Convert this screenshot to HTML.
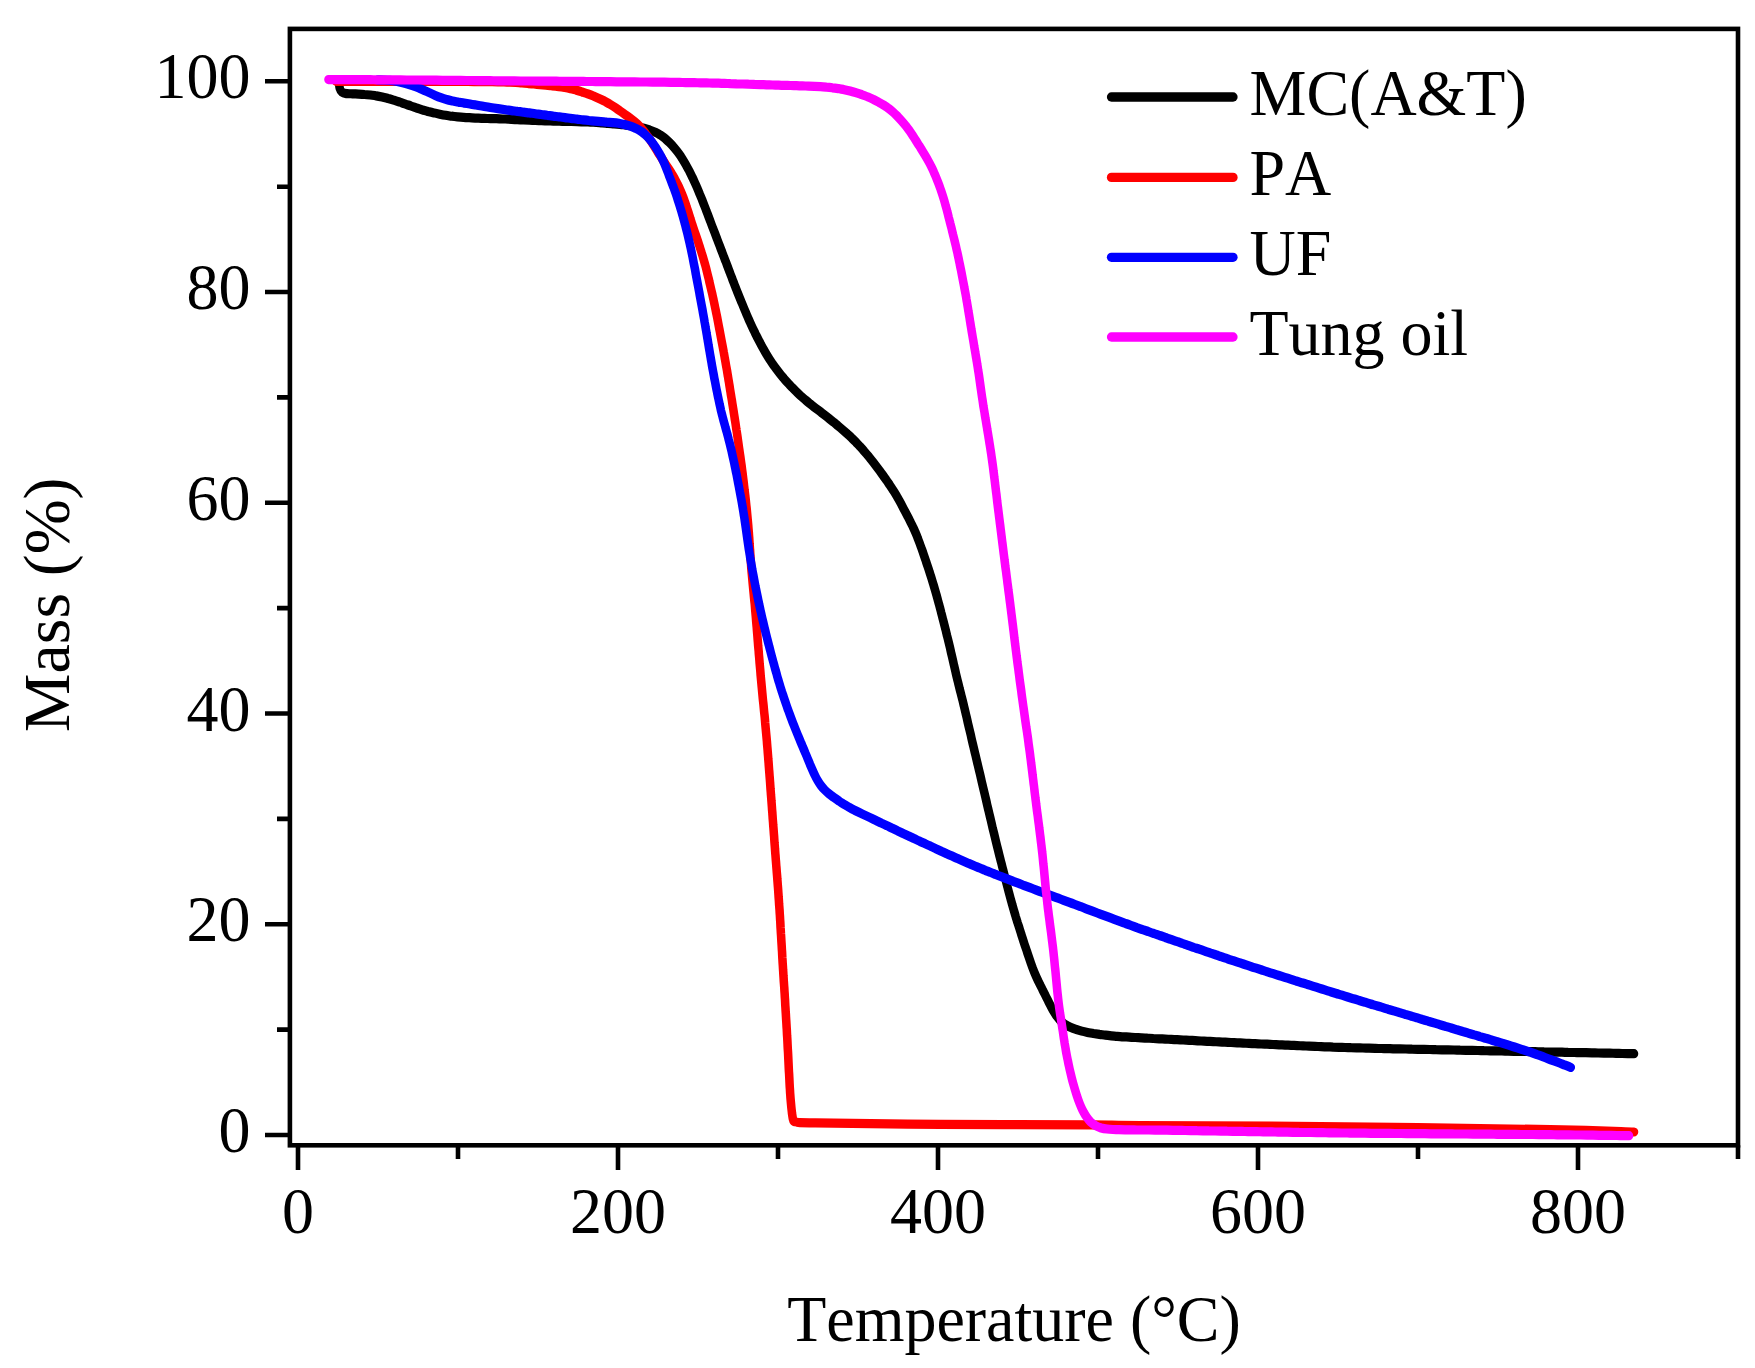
<!DOCTYPE html>
<html lang="en">
<head>
<meta charset="utf-8">
<title>TGA curves</title>
<style>
html,body{margin:0;padding:0;background:#fff;}
body{width:1755px;height:1368px;overflow:hidden;}
svg{display:block;}
svg text{font-family:"Liberation Serif","Times New Roman",serif;font-size:64px;fill:#000;font-kerning:none;}
</style>
</head>
<body>
<svg width="1755" height="1368" viewBox="0 0 1755 1368">
<rect width="1755" height="1368" fill="#fff"/>
<rect x="289.9" y="28.9" width="1448.1" height="1116.4" fill="none" stroke="#000" stroke-width="4.6"/>
<path d="M265.0 1135.0H289.9M277.0 1029.6H289.9M265.0 924.3H289.9M277.0 818.9H289.9M265.0 713.5H289.9M277.0 608.1H289.9M265.0 502.8H289.9M277.0 397.4H289.9M265.0 292.0H289.9M277.0 186.7H289.9M265.0 81.3H289.9M298.0 1145.3V1170.0M458.0 1145.3V1159.0M618.0 1145.3V1170.0M778.0 1145.3V1159.0M938.0 1145.3V1170.0M1098.0 1145.3V1159.0M1258.0 1145.3V1170.0M1418.0 1145.3V1159.0M1578.0 1145.3V1170.0M1738.0 1145.3V1159.0" fill="none" stroke="#000" stroke-width="4.6"/>
<g transform="scale(0.93 1)" fill="none" stroke-width="9.2" stroke-linecap="round" stroke-linejoin="round">
<path d="M364.7 84.0C364.8 84.8 364.9 87.2 365.4 88.5C365.8 89.8 366.3 91.2 367.5 92.0C368.7 92.8 370.7 93.3 372.6 93.6C374.5 93.9 376.9 93.7 379.0 93.8C381.2 93.9 383.3 94.0 385.5 94.1C387.6 94.2 389.8 94.3 391.9 94.5C394.1 94.6 396.2 94.8 398.3 95.0C400.5 95.3 402.6 95.5 404.7 95.9C406.8 96.2 408.9 96.6 411.0 97.0C413.1 97.5 415.2 97.9 417.3 98.5C419.4 99.0 421.4 99.6 423.5 100.2C425.5 100.8 427.6 101.4 429.6 102.0C431.7 102.7 433.7 103.3 435.7 104.0C437.7 104.7 439.8 105.3 441.8 106.0C443.8 106.7 445.8 107.3 447.9 108.0C449.9 108.6 452.0 109.2 454.0 109.8C456.1 110.4 458.1 110.9 460.2 111.5C462.3 112.0 464.4 112.5 466.5 112.9C468.6 113.4 470.7 113.8 472.8 114.2C474.9 114.6 477.0 115.0 479.1 115.3C481.2 115.7 483.3 115.9 485.5 116.2C487.6 116.4 489.8 116.6 491.9 116.8C494.0 117.0 496.2 117.2 498.3 117.3C500.5 117.5 502.6 117.6 504.8 117.7C506.9 117.9 509.1 118.0 511.2 118.1C513.4 118.2 515.5 118.2 517.7 118.3C519.8 118.4 521.9 118.4 524.1 118.5C526.2 118.5 528.4 118.6 530.5 118.6C532.7 118.7 534.9 118.7 537.0 118.8C539.1 118.9 541.3 119.0 543.4 119.0C545.6 119.1 547.7 119.2 549.9 119.3C552.0 119.4 554.2 119.5 556.3 119.7C558.5 119.8 560.6 119.9 562.8 120.0C564.9 120.0 567.1 120.1 569.2 120.2C571.4 120.3 573.5 120.4 575.7 120.5C577.8 120.6 580.0 120.7 582.1 120.7C584.3 120.8 586.4 120.9 588.6 120.9C590.7 121.0 592.9 121.0 595.0 121.1C597.2 121.1 599.3 121.2 601.5 121.2C603.6 121.3 605.8 121.3 607.9 121.4C610.1 121.4 612.2 121.5 614.4 121.5C616.5 121.6 618.5 121.6 620.8 121.6C623.1 121.7 626.0 121.8 628.3 121.8C630.7 121.9 632.6 122.0 634.8 122.1C636.9 122.2 639.1 122.3 641.2 122.4C643.4 122.5 645.5 122.7 647.7 122.8C649.8 123.0 652.0 123.1 654.1 123.3C656.2 123.5 658.4 123.6 660.5 123.8C662.7 124.0 664.8 124.2 666.9 124.4C669.1 124.6 671.2 124.9 673.3 125.1C675.5 125.4 677.6 125.7 679.7 126.0C681.9 126.3 684.0 126.6 686.1 127.0C688.2 127.4 690.3 127.8 692.4 128.3C694.5 128.8 696.5 129.4 698.5 130.0C700.6 130.7 702.6 131.4 704.5 132.2C706.4 133.1 708.3 134.0 710.1 135.1C711.9 136.1 713.6 137.4 715.3 138.6C716.9 139.9 718.5 141.3 720.0 142.7C721.5 144.1 723.0 145.6 724.4 147.1C725.8 148.6 727.1 150.1 728.4 151.7C729.7 153.3 731.0 155.0 732.2 156.6C733.4 158.3 734.5 160.0 735.6 161.7C736.7 163.4 737.8 165.1 738.8 166.9C739.9 168.6 740.8 170.4 741.8 172.2C742.8 174.0 743.7 175.8 744.6 177.6C745.6 179.4 746.4 181.2 747.3 183.0C748.2 184.9 749.1 186.7 749.9 188.5C750.8 190.4 751.6 192.2 752.4 194.1C753.2 195.9 754.1 197.8 754.9 199.6C755.7 201.5 756.4 203.3 757.2 205.2C758.0 207.1 758.8 208.9 759.5 210.8C760.3 212.7 761.0 214.5 761.8 216.4C762.6 218.3 763.3 220.2 764.1 222.0C764.8 223.9 765.6 225.8 766.4 227.7C767.1 229.5 767.9 231.4 768.7 233.2C769.4 235.1 770.2 237.0 771.0 238.9C771.7 240.7 772.5 242.6 773.3 244.5C774.1 246.3 774.8 248.2 775.6 250.1C776.4 251.9 777.1 253.8 777.9 255.7C778.7 257.5 779.4 259.4 780.2 261.3C781.0 263.1 781.7 265.0 782.5 266.9C783.3 268.8 784.0 270.6 784.8 272.5C785.5 274.4 786.3 276.2 787.1 278.1C787.8 280.0 788.6 281.8 789.4 283.7C790.2 285.6 790.9 287.4 791.7 289.3C792.5 291.2 793.3 293.0 794.1 294.9C794.9 296.7 795.7 298.6 796.5 300.4C797.3 302.3 798.2 304.1 799.0 306.0C799.8 307.8 800.6 309.7 801.5 311.5C802.3 313.4 803.1 315.2 804.0 317.0C804.9 318.9 805.7 320.7 806.6 322.5C807.5 324.4 808.4 326.2 809.3 328.0C810.2 329.8 811.2 331.6 812.1 333.4C813.1 335.2 814.0 337.0 815.0 338.7C816.0 340.5 817.0 342.3 818.0 344.1C819.0 345.8 820.0 347.6 821.1 349.3C822.1 351.1 823.2 352.8 824.3 354.5C825.4 356.2 826.5 357.9 827.7 359.6C828.9 361.3 830.1 362.9 831.3 364.6C832.6 366.2 833.8 367.8 835.1 369.4C836.4 371.0 837.7 372.6 839.1 374.2C840.4 375.7 841.8 377.2 843.2 378.8C844.6 380.3 846.1 381.8 847.5 383.2C849.0 384.7 850.4 386.2 851.9 387.6C853.4 389.1 854.9 390.5 856.5 391.9C858.0 393.3 859.5 394.7 861.1 396.0C862.7 397.3 864.4 398.7 866.0 399.9C867.6 401.2 869.3 402.5 871.0 403.8C872.7 405.0 874.3 406.3 876.0 407.5C877.7 408.7 879.5 409.9 881.2 411.1C882.9 412.3 884.6 413.6 886.3 414.8C888.0 416.0 889.7 417.2 891.4 418.5C893.0 419.7 894.7 421.0 896.4 422.2C898.1 423.5 899.7 424.8 901.4 426.1C903.0 427.3 904.6 428.6 906.3 430.0C907.9 431.3 909.5 432.6 911.1 433.9C912.7 435.3 914.3 436.6 915.8 438.0C917.4 439.4 918.9 440.8 920.4 442.2C921.9 443.7 923.4 445.1 924.8 446.6C926.3 448.1 927.6 449.4 929.1 451.1C930.6 452.7 932.5 454.8 934.0 456.4C935.4 458.1 936.7 459.5 938.0 461.1C939.3 462.7 940.6 464.3 941.9 465.9C943.2 467.5 944.5 469.1 945.8 470.7C947.1 472.3 948.3 473.9 949.6 475.5C950.8 477.2 952.1 478.8 953.3 480.4C954.5 482.1 955.8 483.7 957.0 485.4C958.2 487.0 959.4 488.7 960.5 490.4C961.7 492.1 962.8 493.8 963.9 495.5C965.0 497.2 966.0 499.0 967.1 500.7C968.1 502.5 969.1 504.2 970.1 506.0C971.1 507.8 972.1 509.5 973.1 511.3C974.1 513.1 975.1 514.9 976.1 516.6C977.1 518.4 978.1 520.2 979.0 522.0C980.0 523.8 980.9 525.6 981.9 527.4C982.8 529.2 983.7 531.0 984.5 532.8C985.4 534.7 986.2 536.5 986.9 538.4C987.7 540.3 988.5 542.1 989.2 544.0C989.9 545.9 990.7 547.8 991.4 549.7C992.1 551.5 992.8 553.4 993.5 555.3C994.2 557.2 994.9 559.1 995.6 561.0C996.2 562.9 996.9 564.8 997.6 566.7C998.3 568.6 999.0 570.5 999.6 572.4C1000.3 574.3 1000.9 576.2 1001.6 578.1C1002.2 580.0 1002.8 581.9 1003.5 583.9C1004.1 585.8 1004.7 587.7 1005.3 589.6C1005.9 591.5 1006.5 593.4 1007.1 595.4C1007.7 597.3 1008.2 599.2 1008.8 601.2C1009.4 603.1 1009.9 605.0 1010.5 607.0C1011.0 608.9 1011.6 610.8 1012.1 612.8C1012.7 614.7 1013.2 616.6 1013.7 618.6C1014.3 620.5 1014.8 622.4 1015.3 624.4C1015.8 626.3 1016.4 628.3 1016.9 630.2C1017.4 632.1 1017.9 634.1 1018.4 636.0C1019.0 638.0 1019.5 639.9 1020.0 641.9C1020.5 643.8 1021.0 645.7 1021.5 647.7C1022.0 649.6 1022.4 651.6 1022.9 653.5C1023.4 655.5 1023.9 657.4 1024.4 659.4C1024.9 661.3 1025.3 663.3 1025.8 665.2C1026.3 667.2 1026.8 669.1 1027.3 671.1C1027.7 673.0 1028.2 675.0 1028.7 676.9C1029.2 678.9 1029.7 680.8 1030.3 682.8C1030.8 684.7 1031.3 686.6 1031.8 688.6C1032.4 690.5 1032.9 692.5 1033.4 694.4C1033.9 696.3 1034.5 698.3 1035.0 700.2C1035.5 702.2 1036.0 704.1 1036.5 706.0C1037.0 708.0 1037.5 709.9 1038.0 711.9C1038.5 713.8 1039.0 715.8 1039.5 717.7C1040.0 719.7 1040.4 721.6 1040.9 723.6C1041.4 725.5 1041.9 727.5 1042.4 729.4C1042.9 731.4 1043.4 733.3 1043.9 735.2C1044.3 737.2 1044.8 739.2 1045.3 741.1C1045.8 743.0 1046.3 745.0 1046.8 746.9C1047.3 748.9 1047.8 750.8 1048.3 752.8C1048.8 754.7 1049.3 756.7 1049.8 758.6C1050.3 760.6 1050.8 762.5 1051.3 764.5C1051.8 766.4 1052.3 768.3 1052.8 770.3C1053.3 772.2 1053.8 774.2 1054.3 776.1C1054.8 778.1 1055.2 780.0 1055.7 782.0C1056.2 783.9 1056.7 785.9 1057.2 787.8C1057.7 789.8 1058.2 791.7 1058.7 793.6C1059.2 795.6 1059.7 797.5 1060.2 799.5C1060.7 801.4 1061.1 803.4 1061.6 805.3C1062.1 807.3 1062.6 809.2 1063.1 811.2C1063.6 813.1 1064.1 815.1 1064.6 817.0C1065.1 819.0 1065.6 820.9 1066.1 822.9C1066.6 824.8 1067.0 826.8 1067.5 828.7C1068.1 830.6 1068.6 832.6 1069.1 834.5C1069.6 836.5 1070.1 838.4 1070.6 840.4C1071.1 842.3 1071.6 844.2 1072.1 846.2C1072.7 848.1 1073.2 850.1 1073.7 852.0C1074.2 854.0 1074.7 855.9 1075.3 857.8C1075.8 859.8 1076.3 861.7 1076.9 863.6C1077.4 865.6 1077.9 867.5 1078.5 869.5C1079.0 871.4 1079.5 873.3 1080.1 875.3C1080.6 877.2 1081.1 879.1 1081.7 881.1C1082.2 883.0 1082.8 885.0 1083.3 886.9C1083.8 888.8 1084.4 890.8 1084.9 892.7C1085.5 894.6 1086.0 896.4 1086.6 898.5C1087.2 900.6 1088.0 903.1 1088.6 905.2C1089.3 907.3 1089.8 909.1 1090.4 911.0C1091.0 912.9 1091.6 914.8 1092.2 916.8C1092.9 918.7 1093.5 920.6 1094.1 922.5C1094.8 924.4 1095.4 926.3 1096.1 928.2C1096.7 930.1 1097.4 932.0 1098.0 933.9C1098.7 935.8 1099.3 937.7 1100.0 939.6C1100.7 941.5 1101.3 943.5 1102.0 945.4C1102.7 947.2 1103.4 949.1 1104.1 951.0C1104.7 952.9 1105.4 954.8 1106.1 956.7C1106.8 958.6 1107.5 960.5 1108.2 962.4C1108.9 964.3 1109.7 966.2 1110.4 968.0C1111.2 969.9 1111.9 971.8 1112.8 973.6C1113.6 975.5 1114.5 977.3 1115.4 979.1C1116.3 980.9 1117.3 982.7 1118.2 984.5C1119.2 986.3 1120.1 988.1 1121.1 989.9C1122.0 991.7 1123.0 993.4 1124.0 995.2C1124.9 997.0 1125.9 998.8 1126.9 1000.6C1127.8 1002.4 1128.8 1004.2 1129.8 1005.9C1130.8 1007.7 1131.8 1009.5 1132.9 1011.2C1134.0 1012.9 1135.1 1014.6 1136.3 1016.2C1137.6 1017.8 1138.9 1019.4 1140.4 1020.8C1141.9 1022.2 1143.6 1023.4 1145.3 1024.5C1147.1 1025.6 1149.0 1026.5 1151.0 1027.3C1152.9 1028.1 1154.9 1028.8 1157.0 1029.4C1159.0 1030.1 1161.1 1030.6 1163.2 1031.1C1165.2 1031.6 1167.3 1032.0 1169.4 1032.4C1171.5 1032.8 1173.7 1033.1 1175.8 1033.5C1177.9 1033.8 1180.0 1034.1 1182.2 1034.4C1184.3 1034.6 1186.4 1034.9 1188.6 1035.1C1190.7 1035.4 1192.8 1035.6 1195.0 1035.8C1197.1 1036.0 1199.3 1036.1 1201.4 1036.3C1203.6 1036.5 1205.7 1036.6 1207.8 1036.8C1210.0 1036.9 1212.1 1037.0 1214.3 1037.1C1216.4 1037.3 1218.6 1037.4 1220.7 1037.5C1222.9 1037.6 1225.0 1037.7 1227.2 1037.8C1229.3 1037.9 1231.5 1038.0 1233.6 1038.2C1235.8 1038.3 1237.9 1038.3 1240.1 1038.5C1242.2 1038.6 1244.3 1038.7 1246.5 1038.8C1248.6 1038.9 1250.8 1039.0 1252.9 1039.1C1255.1 1039.2 1257.2 1039.3 1259.4 1039.4C1261.5 1039.5 1263.7 1039.6 1265.8 1039.7C1268.0 1039.8 1270.1 1039.9 1272.3 1040.0C1274.4 1040.1 1276.6 1040.2 1278.7 1040.3C1280.9 1040.4 1283.0 1040.5 1285.2 1040.6C1287.3 1040.8 1289.4 1040.9 1291.6 1041.0C1293.7 1041.1 1295.9 1041.2 1298.0 1041.3C1300.2 1041.4 1302.3 1041.5 1304.5 1041.6C1306.6 1041.7 1308.8 1041.8 1310.9 1041.9C1313.1 1042.0 1315.2 1042.1 1317.4 1042.2C1319.5 1042.4 1321.7 1042.5 1323.8 1042.5C1326.0 1042.6 1328.1 1042.7 1330.3 1042.8C1332.4 1042.9 1334.6 1043.0 1336.7 1043.1C1338.8 1043.2 1341.0 1043.3 1343.1 1043.4C1345.3 1043.5 1347.4 1043.6 1349.6 1043.7C1351.7 1043.8 1353.9 1043.9 1356.0 1044.0C1358.2 1044.1 1360.3 1044.2 1362.5 1044.2C1364.6 1044.3 1366.8 1044.4 1368.9 1044.5C1371.1 1044.6 1373.2 1044.7 1375.4 1044.8C1377.5 1044.9 1379.7 1045.0 1381.8 1045.1C1384.0 1045.2 1386.1 1045.2 1388.3 1045.3C1390.4 1045.4 1392.6 1045.5 1394.7 1045.6C1396.9 1045.7 1399.0 1045.8 1401.2 1045.9C1403.3 1046.0 1405.5 1046.0 1407.6 1046.1C1409.8 1046.2 1411.9 1046.3 1414.0 1046.4C1416.2 1046.5 1418.3 1046.5 1420.5 1046.6C1422.6 1046.7 1424.8 1046.8 1426.9 1046.8C1429.1 1046.9 1431.2 1047.0 1433.4 1047.1C1435.5 1047.1 1437.7 1047.2 1439.8 1047.3C1442.0 1047.4 1444.1 1047.4 1446.3 1047.5C1448.4 1047.6 1450.6 1047.6 1452.7 1047.7C1454.9 1047.7 1457.0 1047.8 1459.2 1047.9C1461.3 1047.9 1463.5 1048.0 1465.6 1048.0C1467.8 1048.1 1469.9 1048.1 1472.1 1048.2C1474.2 1048.3 1476.4 1048.3 1478.5 1048.3C1480.7 1048.4 1482.8 1048.5 1485.0 1048.5C1487.1 1048.5 1489.3 1048.6 1491.4 1048.6C1493.6 1048.7 1495.6 1048.7 1497.9 1048.8C1500.2 1048.8 1503.1 1048.9 1505.4 1048.9C1507.7 1049.0 1509.7 1049.0 1511.9 1049.0C1514.0 1049.1 1516.2 1049.1 1518.3 1049.2C1520.5 1049.2 1522.6 1049.2 1524.8 1049.3C1526.9 1049.3 1529.1 1049.4 1531.2 1049.4C1533.4 1049.5 1535.5 1049.5 1537.7 1049.5C1539.8 1049.6 1542.0 1049.6 1544.1 1049.7C1546.3 1049.7 1548.4 1049.7 1550.6 1049.8C1552.7 1049.8 1554.9 1049.9 1557.0 1049.9C1559.2 1050.0 1561.3 1050.0 1563.5 1050.0C1565.6 1050.1 1567.8 1050.1 1569.9 1050.2C1572.1 1050.2 1574.2 1050.2 1576.4 1050.3C1578.5 1050.3 1580.7 1050.4 1582.8 1050.4C1585.0 1050.5 1587.1 1050.5 1589.3 1050.5C1591.4 1050.6 1593.6 1050.6 1595.7 1050.7C1597.9 1050.7 1600.0 1050.8 1602.2 1050.8C1604.3 1050.8 1606.5 1050.9 1608.6 1050.9C1610.8 1051.0 1612.9 1051.0 1615.1 1051.0C1617.2 1051.1 1619.4 1051.1 1621.5 1051.2C1623.7 1051.2 1625.8 1051.2 1628.0 1051.3C1630.1 1051.3 1632.3 1051.4 1634.4 1051.4C1636.6 1051.4 1638.7 1051.5 1640.9 1051.5C1643.0 1051.5 1645.2 1051.6 1647.3 1051.6C1649.5 1051.7 1651.6 1051.7 1653.8 1051.8C1655.9 1051.8 1658.1 1051.8 1660.2 1051.9C1662.4 1051.9 1664.5 1051.9 1666.7 1052.0C1668.8 1052.0 1671.0 1052.1 1673.1 1052.1C1675.3 1052.2 1677.4 1052.2 1679.6 1052.2C1681.7 1052.3 1683.9 1052.3 1686.0 1052.4C1688.2 1052.4 1690.3 1052.4 1692.5 1052.5C1694.6 1052.5 1696.8 1052.6 1698.9 1052.6C1701.1 1052.6 1703.2 1052.7 1705.4 1052.7C1707.5 1052.8 1709.7 1052.8 1711.8 1052.8C1714.0 1052.9 1716.1 1052.9 1718.3 1053.0C1720.4 1053.0 1722.6 1053.0 1724.7 1053.1C1726.9 1053.1 1729.0 1053.2 1731.2 1053.2C1733.3 1053.2 1735.5 1053.3 1737.6 1053.3C1739.8 1053.4 1741.9 1053.4 1744.1 1053.5C1746.2 1053.5 1748.4 1053.5 1750.5 1053.6C1752.7 1053.6 1755.9 1053.7 1757.0 1053.7" stroke="#000000"/>
<path d="M361.3 81.3C362.4 81.3 365.6 81.3 367.7 81.3C369.9 81.3 372.0 81.3 374.2 81.3C376.3 81.3 378.5 81.3 380.6 81.3C382.8 81.3 384.9 81.3 387.1 81.3C389.2 81.3 391.4 81.3 393.6 81.3C395.7 81.4 397.9 81.3 400.0 81.3C402.2 81.4 404.3 81.4 406.5 81.4C408.6 81.4 410.8 81.4 412.9 81.4C415.1 81.4 417.2 81.4 419.4 81.4C421.5 81.4 423.7 81.4 425.8 81.4C428.0 81.4 430.1 81.4 432.3 81.4C434.4 81.4 436.6 81.4 438.7 81.4C440.9 81.4 443.0 81.4 445.2 81.4C447.3 81.4 449.5 81.4 451.6 81.4C453.8 81.4 455.9 81.4 458.1 81.4C460.2 81.4 462.4 81.5 464.5 81.5C466.7 81.5 468.8 81.5 471.0 81.5C473.1 81.5 475.3 81.5 477.4 81.5C479.6 81.5 481.7 81.5 483.9 81.5C486.0 81.5 488.2 81.5 490.3 81.5C492.5 81.5 494.6 81.5 496.8 81.5C498.9 81.5 501.1 81.5 503.3 81.5C505.4 81.6 507.6 81.6 509.7 81.6C511.9 81.6 514.0 81.6 516.2 81.6C518.3 81.6 520.5 81.6 522.6 81.6C524.8 81.7 526.9 81.7 529.1 81.7C531.2 81.7 533.4 81.7 535.5 81.8C537.7 81.8 539.8 81.9 542.0 81.9C544.1 82.0 546.3 82.1 548.4 82.2C550.6 82.3 552.7 82.4 554.8 82.5C557.0 82.7 559.1 82.8 561.3 83.0C563.4 83.1 565.6 83.3 567.7 83.5C569.9 83.7 572.0 83.9 574.1 84.0C576.3 84.2 578.4 84.4 580.6 84.6C582.7 84.8 584.8 85.0 587.0 85.2C589.1 85.4 591.1 85.5 593.4 85.8C595.7 86.0 598.6 86.3 600.9 86.6C603.2 86.8 605.1 87.1 607.3 87.5C609.4 87.8 611.5 88.2 613.6 88.7C615.7 89.1 617.7 89.7 619.8 90.2C621.9 90.7 623.9 91.3 626.0 92.0C628.0 92.6 630.1 93.2 632.1 93.9C634.1 94.6 636.1 95.3 638.1 96.0C640.1 96.8 642.1 97.6 644.0 98.4C646.0 99.2 647.9 100.1 649.8 101.0C651.7 102.0 653.6 102.9 655.4 104.0C657.3 105.0 659.1 106.0 660.9 107.1C662.7 108.2 664.4 109.4 666.2 110.6C668.0 111.7 669.7 112.9 671.4 114.1C673.2 115.2 675.0 116.4 676.7 117.5C678.4 118.7 680.2 119.9 681.8 121.1C683.5 122.4 685.1 123.7 686.6 125.1C688.2 126.5 689.5 128.0 690.9 129.6C692.3 131.1 693.6 132.7 694.8 134.3C696.1 135.9 697.4 137.5 698.6 139.2C699.8 140.9 700.9 142.5 702.1 144.2C703.2 145.9 704.4 147.6 705.5 149.3C706.6 151.0 707.8 152.7 708.9 154.4C710.1 156.1 711.2 157.8 712.4 159.5C713.5 161.1 714.7 162.8 715.9 164.5C717.1 166.1 718.3 167.8 719.5 169.5C720.7 171.2 721.8 172.8 722.9 174.6C724.0 176.3 725.1 178.0 726.1 179.8C727.1 181.5 728.1 183.3 729.0 185.1C730.0 186.9 730.9 188.7 731.8 190.6C732.6 192.4 733.4 194.2 734.2 196.1C735.0 198.0 735.7 199.9 736.4 201.7C737.1 203.6 737.8 205.5 738.4 207.4C739.1 209.3 739.8 211.2 740.5 213.1C741.1 215.0 741.8 216.9 742.4 218.8C743.1 220.8 743.7 222.7 744.4 224.6C745.1 226.5 745.7 228.4 746.4 230.3C747.1 232.2 747.8 234.0 748.5 235.9C749.2 237.8 749.9 239.7 750.6 241.6C751.2 243.5 751.9 245.4 752.6 247.3C753.2 249.2 753.9 251.1 754.5 253.0C755.2 255.0 755.8 256.9 756.4 258.8C757.0 260.7 757.6 262.6 758.2 264.6C758.7 266.5 759.3 268.4 759.8 270.4C760.3 272.3 760.8 274.2 761.3 276.2C761.9 278.1 762.4 280.1 762.8 282.0C763.3 284.0 763.8 285.9 764.3 287.9C764.8 289.8 765.3 291.8 765.8 293.7C766.2 295.7 766.7 297.6 767.2 299.6C767.6 301.5 768.1 303.5 768.5 305.4C768.9 307.4 769.4 309.4 769.8 311.3C770.2 313.3 770.7 315.2 771.1 317.2C771.5 319.2 771.9 321.1 772.3 323.1C772.7 325.1 773.1 327.0 773.5 329.0C773.9 331.0 774.3 332.9 774.7 334.9C775.1 336.8 775.5 338.8 775.9 340.8C776.3 342.7 776.7 344.7 777.1 346.7C777.5 348.6 777.9 350.6 778.3 352.6C778.7 354.6 779.0 356.5 779.4 358.5C779.8 360.5 780.2 362.4 780.5 364.4C780.9 366.4 781.3 368.3 781.7 370.3C782.0 372.3 782.4 374.3 782.7 376.2C783.1 378.2 783.4 380.2 783.8 382.1C784.1 384.1 784.5 386.1 784.8 388.1C785.1 390.0 785.5 392.0 785.8 394.0C786.2 396.0 786.5 397.9 786.9 399.9C787.2 401.9 787.5 403.9 787.9 405.9C788.2 407.8 788.6 409.8 788.9 411.8C789.2 413.8 789.6 415.7 789.9 417.7C790.2 419.7 790.6 421.7 790.9 423.6C791.2 425.6 791.5 427.6 791.8 429.6C792.2 431.5 792.5 433.5 792.8 435.5C793.1 437.5 793.4 439.5 793.7 441.4C794.0 443.4 794.3 445.4 794.6 447.4C794.9 449.4 795.2 451.2 795.5 453.3C795.9 455.5 796.3 458.1 796.6 460.3C796.9 462.4 797.2 464.2 797.5 466.2C797.7 468.2 798.0 470.2 798.3 472.2C798.6 474.1 798.8 476.1 799.1 478.1C799.4 480.1 799.6 482.1 799.9 484.1C800.1 486.1 800.4 488.0 800.6 490.0C800.9 492.0 801.1 494.0 801.4 496.0C801.6 498.0 801.9 500.0 802.1 501.9C802.3 503.9 802.5 505.9 802.8 507.9C803.0 509.9 803.2 511.9 803.4 513.9C803.6 515.9 803.8 517.9 804.0 519.9C804.2 521.9 804.4 523.9 804.6 525.9C804.7 527.8 804.9 529.8 805.1 531.8C805.3 533.8 805.4 535.8 805.6 537.8C805.7 539.8 805.9 541.8 806.0 543.8C806.2 545.8 806.3 547.8 806.5 549.8C806.6 551.8 806.7 553.8 806.9 555.8C807.0 557.8 807.2 559.8 807.4 561.8C807.5 563.8 807.7 565.7 807.8 567.7C808.0 569.7 808.2 571.7 808.4 573.7C808.6 575.7 808.8 577.7 809.0 579.7C809.2 581.7 809.4 583.7 809.6 585.7C809.8 587.7 810.0 589.7 810.2 591.6C810.4 593.6 810.6 595.6 810.8 597.6C811.0 599.6 811.2 601.6 811.5 603.6C811.7 605.6 811.9 607.6 812.0 609.6C812.2 611.6 812.4 613.6 812.6 615.5C812.8 617.5 813.0 619.5 813.1 621.5C813.3 623.5 813.5 625.5 813.7 627.5C813.8 629.5 814.0 631.5 814.2 633.5C814.4 635.5 814.5 637.5 814.7 639.5C814.9 641.5 815.1 643.5 815.2 645.5C815.4 647.4 815.6 649.4 815.8 651.4C815.9 653.4 816.1 655.4 816.3 657.4C816.5 659.4 816.7 661.4 816.8 663.4C817.0 665.4 817.2 667.4 817.4 669.4C817.6 671.4 817.8 673.4 817.9 675.4C818.1 677.3 818.3 679.3 818.5 681.3C818.7 683.3 818.9 685.3 819.1 687.3C819.3 689.3 819.5 691.3 819.7 693.3C819.9 695.3 820.1 697.3 820.3 699.2C820.5 701.2 820.8 703.2 821.0 705.2C821.2 707.2 821.4 709.2 821.6 711.2C821.8 713.2 822.1 715.2 822.3 717.2C822.5 719.2 822.7 721.1 822.8 723.1C823.0 725.1 823.2 727.1 823.4 729.1C823.6 731.1 823.8 733.1 824.0 735.1C824.2 737.1 824.4 739.1 824.6 741.1C824.7 743.1 824.9 745.1 825.1 747.1C825.3 749.1 825.5 751.0 825.6 753.0C825.8 755.0 826.0 757.0 826.1 759.0C826.3 761.0 826.5 763.0 826.6 765.0C826.8 767.0 826.9 769.0 827.1 771.0C827.3 773.0 827.4 775.0 827.6 777.0C827.8 779.0 827.9 781.0 828.1 783.0C828.2 785.0 828.4 786.9 828.5 788.9C828.7 790.9 828.9 792.9 829.0 794.9C829.2 796.9 829.4 798.9 829.5 800.9C829.7 802.9 829.8 804.9 830.0 806.9C830.1 808.9 830.3 810.9 830.5 812.9C830.6 814.9 830.8 816.9 830.9 818.9C831.1 820.9 831.3 822.9 831.4 824.9C831.6 826.8 831.7 828.8 831.9 830.8C832.0 832.8 832.2 834.8 832.4 836.8C832.5 838.8 832.7 840.8 832.8 842.8C833.0 844.8 833.2 846.8 833.3 848.8C833.5 850.8 833.6 852.8 833.8 854.8C834.0 856.8 834.1 858.8 834.3 860.8C834.5 862.8 834.6 864.7 834.8 866.7C835.0 868.7 835.1 870.7 835.3 872.7C835.5 874.7 835.7 876.7 835.8 878.7C836.0 880.7 836.1 882.7 836.3 884.7C836.5 886.7 836.6 888.7 836.8 890.7C836.9 892.7 837.1 894.5 837.2 896.7C837.4 898.8 837.6 901.5 837.7 903.6C837.9 905.8 838.0 907.6 838.2 909.6C838.3 911.6 838.4 913.6 838.6 915.6C838.7 917.6 838.8 919.6 839.0 921.6C839.1 923.6 839.2 925.6 839.3 927.6C839.5 929.6 839.6 931.6 839.7 933.6C839.9 935.6 840.0 937.6 840.1 939.6C840.2 941.6 840.4 943.6 840.5 945.6C840.6 947.6 840.7 949.6 840.9 951.6C841.0 953.6 841.1 955.6 841.2 957.6C841.4 959.6 841.5 961.6 841.6 963.5C841.8 965.5 841.9 967.5 842.0 969.5C842.2 971.5 842.3 973.5 842.4 975.5C842.6 977.5 842.7 979.5 842.8 981.5C843.0 983.5 843.1 985.5 843.3 987.5C843.4 989.5 843.5 991.5 843.7 993.5C843.8 995.5 843.9 997.5 844.1 999.5C844.2 1001.5 844.3 1003.5 844.4 1005.5C844.6 1007.5 844.7 1009.5 844.8 1011.5C845.0 1013.5 845.1 1015.5 845.2 1017.5C845.3 1019.4 845.5 1021.5 845.6 1023.5C845.7 1025.4 845.8 1027.4 846.0 1029.4C846.1 1031.4 846.2 1033.4 846.3 1035.4C846.5 1037.4 846.6 1039.4 846.7 1041.4C846.8 1043.4 846.9 1045.4 847.0 1047.4C847.1 1049.4 847.3 1051.4 847.4 1053.4C847.5 1055.4 847.6 1057.4 847.7 1059.4C847.8 1061.4 847.9 1063.4 848.0 1065.4C848.1 1067.4 848.2 1069.4 848.3 1071.4C848.5 1073.4 848.6 1075.4 848.7 1077.4C848.8 1079.4 848.9 1081.4 849.0 1083.4C849.1 1085.4 849.2 1087.4 849.4 1089.4C849.5 1091.4 849.6 1093.4 849.8 1095.3C849.9 1097.3 850.1 1099.3 850.3 1101.3C850.5 1103.3 850.7 1105.3 850.9 1107.3C851.1 1109.3 851.4 1111.3 851.6 1113.3C851.9 1115.2 852.4 1118.2 852.6 1119.2C853.2 1119.7 852.1 1121.4 856.1 1122.0C860.1 1122.6 850.7 1122.5 876.6 1122.9C902.4 1123.3 961.9 1124.1 1011.3 1124.4C1060.7 1124.7 1137.3 1124.7 1173.0 1124.9C1208.8 1125.1 1180.3 1125.2 1225.8 1125.5C1271.3 1125.8 1372.7 1126.1 1446.2 1126.8C1519.8 1127.5 1615.2 1128.7 1667.0 1129.6C1718.8 1130.5 1742.0 1131.6 1757.0 1132.0" stroke="#ff0000"/>
<path d="M406.5 79.9C407.5 79.9 410.8 80.0 412.9 80.0C415.1 80.1 417.2 80.2 419.3 80.4C421.5 80.6 423.6 80.8 425.7 81.2C427.8 81.5 429.9 82.0 432.0 82.5C434.1 83.0 436.1 83.5 438.2 84.1C440.3 84.7 442.3 85.3 444.3 85.9C446.4 86.6 448.4 87.3 450.4 88.0C452.4 88.8 454.3 89.6 456.3 90.4C458.2 91.2 460.2 92.1 462.1 92.9C464.1 93.8 466.0 94.6 468.0 95.4C470.0 96.2 472.0 97.0 474.0 97.7C476.0 98.4 478.0 99.0 480.1 99.5C482.2 100.1 484.3 100.5 486.4 100.9C488.5 101.4 490.6 101.7 492.7 102.1C494.8 102.4 496.9 102.8 499.1 103.1C501.2 103.4 503.3 103.7 505.4 104.0C507.5 104.4 509.7 104.7 511.8 105.0C513.9 105.4 516.0 105.7 518.2 106.0C520.3 106.4 522.4 106.7 524.5 107.0C526.6 107.4 528.7 107.7 530.9 108.0C533.0 108.3 535.1 108.6 537.2 108.9C539.4 109.2 541.5 109.5 543.6 109.8C545.8 110.1 547.9 110.3 550.0 110.6C552.2 110.9 554.3 111.1 556.4 111.4C558.6 111.6 560.7 111.9 562.8 112.2C565.0 112.4 567.1 112.7 569.2 112.9C571.4 113.2 573.5 113.4 575.6 113.7C577.8 114.0 579.9 114.2 582.0 114.5C584.2 114.8 586.3 115.0 588.4 115.3C590.6 115.5 592.7 115.8 594.8 116.1C596.9 116.3 599.1 116.6 601.2 116.8C603.3 117.1 605.5 117.4 607.6 117.6C609.7 117.9 611.9 118.1 614.0 118.4C616.1 118.6 618.3 118.9 620.4 119.1C622.5 119.3 624.7 119.6 626.8 119.8C629.0 120.0 631.1 120.2 633.2 120.5C635.4 120.7 637.5 120.9 639.7 121.1C641.8 121.3 643.9 121.5 646.1 121.6C648.2 121.8 650.4 121.9 652.5 122.1C654.6 122.2 656.8 122.4 658.9 122.6C661.1 122.8 663.2 123.0 665.3 123.3C667.4 123.7 669.6 124.0 671.6 124.5C673.7 125.0 675.8 125.6 677.8 126.2C679.8 126.8 681.9 127.6 683.8 128.4C685.7 129.3 687.6 130.2 689.3 131.3C691.1 132.4 692.7 133.7 694.3 135.1C695.8 136.4 697.3 137.9 698.7 139.4C700.1 140.9 701.4 142.5 702.6 144.2C703.9 145.8 705.1 147.4 706.2 149.1C707.4 150.8 708.5 152.5 709.5 154.3C710.6 156.0 711.6 157.8 712.5 159.6C713.4 161.4 714.3 163.2 715.1 165.1C715.9 166.9 716.7 168.8 717.4 170.7C718.2 172.5 719.0 174.4 719.7 176.3C720.5 178.1 721.3 180.0 722.0 181.9C722.8 183.8 723.5 185.6 724.3 187.5C725.0 189.4 725.8 191.3 726.5 193.1C727.2 195.0 727.9 196.9 728.5 198.8C729.2 200.7 729.8 202.6 730.5 204.5C731.1 206.4 731.7 208.4 732.4 210.3C733.0 212.2 733.6 214.1 734.2 216.1C734.7 218.0 735.3 219.9 735.9 221.8C736.4 223.8 737.0 225.7 737.5 227.6C738.1 229.6 738.6 231.5 739.1 233.4C739.6 235.4 740.1 237.3 740.6 239.3C741.1 241.2 741.6 243.2 742.0 245.1C742.5 247.1 743.0 249.0 743.4 251.0C743.8 253.0 744.3 254.9 744.7 256.9C745.1 258.8 745.5 260.8 745.9 262.8C746.3 264.7 746.7 266.7 747.2 268.7C747.6 270.6 747.9 272.6 748.3 274.6C748.7 276.5 749.1 278.5 749.5 280.5C749.9 282.4 750.3 284.4 750.7 286.4C751.1 288.3 751.5 290.3 751.9 292.3C752.2 294.2 752.6 296.2 753.0 298.2C753.4 300.1 753.8 302.1 754.2 304.1C754.6 306.0 755.0 308.0 755.4 310.0C755.7 311.9 756.1 313.9 756.5 315.9C756.9 317.8 757.3 319.8 757.6 321.8C758.0 323.8 758.4 325.7 758.7 327.7C759.1 329.7 759.5 331.6 759.8 333.6C760.2 335.6 760.5 337.6 760.9 339.5C761.2 341.5 761.6 343.5 761.9 345.4C762.3 347.4 762.6 349.4 763.0 351.4C763.3 353.3 763.7 355.3 764.1 357.3C764.4 359.3 764.8 361.2 765.2 363.2C765.5 365.2 765.9 367.1 766.3 369.1C766.7 371.1 767.1 373.0 767.5 375.0C767.8 377.0 768.2 378.9 768.7 380.9C769.1 382.9 769.5 384.8 769.9 386.8C770.3 388.8 770.7 390.7 771.2 392.7C771.6 394.6 772.0 396.6 772.5 398.6C772.9 400.5 773.4 402.5 773.8 404.4C774.3 406.4 774.8 408.3 775.2 410.3C775.7 412.2 776.3 414.2 776.8 416.1C777.3 418.0 777.9 420.0 778.4 421.9C779.0 423.8 779.6 425.8 780.1 427.7C780.7 429.6 781.3 431.6 781.9 433.5C782.4 435.4 783.0 437.3 783.5 439.3C784.1 441.2 784.6 443.1 785.1 445.1C785.6 447.0 786.1 449.0 786.6 450.9C787.1 452.9 787.5 454.8 788.0 456.8C788.5 458.7 788.9 460.7 789.4 462.6C789.8 464.6 790.2 466.6 790.7 468.5C791.1 470.5 791.5 472.5 792.0 474.4C792.4 476.4 792.8 478.3 793.2 480.3C793.6 482.3 794.0 484.2 794.4 486.2C794.8 488.1 795.2 490.1 795.6 492.1C796.0 494.0 796.4 496.0 796.8 498.0C797.2 499.9 797.6 501.9 797.9 503.9C798.3 505.9 798.7 507.8 799.0 509.8C799.4 511.8 799.7 513.8 800.0 515.7C800.4 517.7 800.7 519.7 801.0 521.7C801.3 523.6 801.6 525.6 801.9 527.6C802.2 529.6 802.5 531.6 802.8 533.5C803.1 535.5 803.4 537.5 803.7 539.5C804.0 541.5 804.3 543.5 804.6 545.4C804.9 547.4 805.2 549.4 805.6 551.4C805.9 553.3 806.3 555.3 806.6 557.3C807.0 559.3 807.3 561.2 807.7 563.2C808.1 565.2 808.5 567.1 808.8 569.1C809.2 571.1 809.6 573.0 810.0 575.0C810.4 577.0 810.8 578.9 811.2 580.9C811.6 582.9 812.0 584.8 812.4 586.8C812.9 588.8 813.3 590.7 813.7 592.7C814.1 594.6 814.6 596.6 815.0 598.5C815.4 600.5 815.9 602.5 816.3 604.4C816.8 606.4 817.3 608.3 817.7 610.3C818.2 612.2 818.7 614.2 819.1 616.1C819.6 618.1 820.1 620.0 820.6 622.0C821.1 623.9 821.6 625.9 822.1 627.8C822.6 629.8 823.1 631.7 823.6 633.7C824.1 635.6 824.6 637.5 825.2 639.5C825.7 641.4 826.2 643.4 826.8 645.3C827.3 647.2 827.8 649.2 828.4 651.1C828.9 653.0 829.5 655.0 830.0 656.9C830.6 658.8 831.1 660.8 831.7 662.7C832.3 664.6 832.8 666.6 833.4 668.5C834.0 670.4 834.6 672.3 835.2 674.3C835.7 676.2 836.3 678.1 836.9 680.0C837.5 681.9 838.2 683.9 838.8 685.8C839.4 687.7 840.1 689.6 840.7 691.5C841.4 693.4 842.0 695.3 842.7 697.2C843.4 699.1 844.1 701.0 844.8 702.9C845.5 704.8 846.2 706.7 846.9 708.6C847.6 710.4 848.4 712.3 849.1 714.2C849.8 716.1 850.6 718.0 851.4 719.8C852.1 721.7 852.9 723.6 853.7 725.4C854.5 727.3 855.3 729.1 856.1 731.0C856.9 732.9 857.7 734.7 858.5 736.5C859.4 738.4 860.2 740.2 861.0 742.1C861.9 743.9 862.7 745.8 863.5 747.6C864.4 749.4 865.2 751.3 866.0 753.1C866.9 755.0 867.7 756.8 868.5 758.7C869.3 760.5 870.1 762.4 870.9 764.2C871.8 766.1 872.6 767.9 873.5 769.8C874.3 771.6 875.2 773.4 876.2 775.2C877.1 777.0 878.1 778.8 879.2 780.5C880.3 782.2 881.4 783.9 882.7 785.5C884.0 787.1 885.4 788.6 886.9 790.0C888.4 791.4 890.0 792.7 891.7 794.0C893.3 795.2 895.1 796.4 896.8 797.6C898.5 798.8 900.3 799.9 902.1 801.0C903.9 802.2 905.7 803.2 907.5 804.3C909.3 805.3 911.2 806.4 913.1 807.3C914.9 808.3 916.8 809.3 918.7 810.2C920.7 811.1 922.6 812.0 924.5 812.8C926.5 813.7 928.4 814.5 930.4 815.4C932.3 816.2 934.3 817.1 936.2 817.9C938.1 818.8 940.1 819.7 942.0 820.5C944.0 821.4 945.9 822.2 947.8 823.1C949.8 824.0 951.7 824.8 953.7 825.7C955.6 826.6 957.6 827.4 959.5 828.3C961.4 829.1 963.4 830.0 965.3 830.9C967.3 831.7 969.2 832.6 971.1 833.5C973.1 834.3 975.0 835.2 977.0 836.0C978.9 836.9 980.9 837.7 982.8 838.6C984.8 839.4 986.7 840.3 988.7 841.1C990.6 842.0 992.6 842.8 994.5 843.6C996.5 844.5 998.4 845.3 1000.4 846.1C1002.3 847.0 1004.3 847.8 1006.2 848.7C1008.2 849.5 1010.1 850.3 1012.1 851.2C1014.1 852.0 1016.0 852.8 1018.0 853.7C1019.9 854.5 1021.9 855.3 1023.8 856.1C1025.8 856.9 1027.8 857.8 1029.7 858.6C1031.7 859.4 1033.7 860.2 1035.6 861.0C1037.6 861.8 1039.6 862.6 1041.6 863.4C1043.5 864.1 1045.5 864.9 1047.5 865.7C1049.5 866.5 1051.5 867.2 1053.5 868.0C1055.5 868.8 1057.4 869.5 1059.4 870.3C1061.4 871.0 1063.4 871.8 1065.4 872.5C1067.4 873.2 1069.4 874.0 1071.4 874.7C1073.4 875.5 1075.4 876.2 1077.4 876.9C1079.4 877.6 1081.4 878.4 1083.5 879.1C1085.5 879.8 1087.5 880.5 1089.5 881.3C1091.5 882.0 1093.5 882.7 1095.5 883.4C1097.5 884.1 1099.5 884.9 1101.5 885.6C1103.5 886.3 1105.5 887.0 1107.5 887.7C1109.5 888.4 1111.6 889.1 1113.6 889.8C1115.6 890.5 1117.6 891.2 1119.6 892.0C1121.6 892.7 1123.6 893.4 1125.7 894.0C1127.7 894.7 1129.7 895.4 1131.7 896.1C1133.7 896.8 1135.7 897.5 1137.8 898.2C1139.8 898.9 1141.8 899.6 1143.8 900.3C1145.8 901.0 1147.8 901.7 1149.8 902.4C1151.9 903.1 1153.9 903.8 1155.9 904.5C1157.9 905.2 1159.9 905.9 1161.9 906.6C1163.9 907.4 1165.9 908.1 1168.0 908.8C1170.0 909.5 1172.0 910.2 1174.0 910.9C1176.0 911.6 1178.0 912.3 1180.0 913.0C1182.0 913.7 1184.1 914.4 1186.1 915.1C1188.1 915.8 1190.1 916.5 1192.1 917.2C1194.1 917.9 1196.1 918.6 1198.2 919.3C1200.2 920.0 1202.2 920.7 1204.2 921.4C1206.2 922.1 1208.2 922.8 1210.3 923.5C1212.3 924.1 1214.3 924.8 1216.3 925.5C1218.4 926.2 1220.4 926.9 1222.4 927.6C1224.4 928.2 1226.5 928.9 1228.5 929.6C1230.5 930.2 1232.5 930.9 1234.6 931.5C1236.6 932.2 1238.6 932.9 1240.7 933.5C1242.7 934.2 1244.7 934.8 1246.8 935.5C1248.8 936.1 1250.8 936.8 1252.9 937.5C1254.9 938.1 1256.9 938.8 1259.0 939.4C1261.0 940.1 1263.0 940.7 1265.1 941.4C1267.1 942.0 1269.1 942.7 1271.2 943.4C1273.2 944.0 1275.2 944.7 1277.2 945.3C1279.3 946.0 1281.3 946.6 1283.3 947.3C1285.4 947.9 1287.4 948.6 1289.5 949.2C1291.5 949.9 1293.5 950.5 1295.5 951.1C1297.6 951.8 1299.6 952.4 1301.7 953.1C1303.7 953.7 1305.7 954.4 1307.8 955.0C1309.8 955.6 1311.8 956.3 1313.9 956.9C1315.9 957.6 1318.0 958.2 1320.0 958.8C1322.0 959.5 1324.1 960.1 1326.1 960.7C1328.2 961.4 1330.2 962.0 1332.3 962.6C1334.3 963.2 1336.3 963.9 1338.4 964.5C1340.4 965.1 1342.5 965.7 1344.5 966.3C1346.6 967.0 1348.6 967.6 1350.7 968.2C1352.7 968.8 1354.7 969.4 1356.8 970.0C1358.8 970.6 1360.9 971.2 1362.9 971.9C1365.0 972.5 1367.0 973.1 1369.1 973.7C1371.1 974.3 1373.2 974.9 1375.2 975.5C1377.3 976.1 1379.3 976.7 1381.4 977.3C1383.4 977.9 1385.5 978.5 1387.5 979.1C1389.6 979.7 1391.6 980.3 1393.7 981.0C1395.7 981.6 1397.8 982.2 1399.8 982.8C1401.9 983.3 1403.9 983.9 1406.0 984.5C1408.1 985.1 1410.1 985.7 1412.2 986.3C1414.2 986.9 1416.3 987.5 1418.3 988.1C1420.4 988.7 1422.4 989.3 1424.5 989.9C1426.5 990.5 1428.6 991.1 1430.6 991.7C1432.7 992.3 1434.8 992.9 1436.8 993.5C1438.9 994.1 1440.9 994.6 1443.0 995.2C1445.0 995.8 1447.1 996.4 1449.1 997.0C1451.2 997.6 1453.3 998.2 1455.3 998.8C1457.4 999.3 1459.4 999.9 1461.5 1000.5C1463.5 1001.1 1465.6 1001.7 1467.7 1002.2C1469.7 1002.8 1471.8 1003.4 1473.8 1004.0C1475.9 1004.6 1477.9 1005.1 1480.0 1005.7C1482.1 1006.3 1484.1 1006.9 1486.2 1007.4C1488.3 1008.0 1490.3 1008.6 1492.4 1009.2C1494.4 1009.7 1496.5 1010.3 1498.5 1010.9C1500.6 1011.5 1502.7 1012.0 1504.7 1012.6C1506.8 1013.2 1508.9 1013.7 1510.9 1014.3C1513.0 1014.9 1515.0 1015.5 1517.1 1016.0C1519.2 1016.6 1521.2 1017.2 1523.3 1017.7C1525.4 1018.3 1527.4 1018.9 1529.5 1019.5C1531.5 1020.0 1533.6 1020.6 1535.7 1021.2C1537.7 1021.7 1539.8 1022.3 1541.8 1022.9C1543.9 1023.5 1546.0 1024.0 1548.0 1024.6C1550.1 1025.2 1552.1 1025.7 1554.2 1026.3C1556.3 1026.9 1558.3 1027.5 1560.4 1028.0C1562.4 1028.6 1564.5 1029.2 1566.6 1029.8C1568.6 1030.3 1570.7 1030.9 1572.8 1031.5C1574.8 1032.0 1576.9 1032.6 1578.9 1033.2C1581.0 1033.7 1583.1 1034.3 1585.1 1034.9C1587.2 1035.4 1589.2 1036.0 1591.3 1036.6C1593.4 1037.1 1595.4 1037.7 1597.5 1038.3C1599.6 1038.8 1601.6 1039.4 1603.7 1040.0C1605.7 1040.6 1607.8 1041.1 1609.9 1041.7C1611.9 1042.3 1614.0 1042.9 1616.0 1043.4C1618.1 1044.0 1620.2 1044.6 1622.2 1045.2C1624.3 1045.8 1626.3 1046.4 1628.4 1047.0C1630.4 1047.6 1632.5 1048.2 1634.5 1048.8C1636.6 1049.4 1638.6 1050.1 1640.6 1050.7C1642.7 1051.3 1644.7 1052.0 1646.8 1052.6C1648.8 1053.3 1650.8 1054.0 1652.8 1054.7C1654.9 1055.3 1656.9 1056.0 1658.9 1056.7C1660.9 1057.4 1662.9 1058.1 1664.9 1058.8C1667.0 1059.5 1669.0 1060.2 1671.0 1060.9C1673.0 1061.6 1675.0 1062.3 1677.0 1063.0C1679.0 1063.7 1681.0 1064.5 1683.0 1065.2C1685.0 1065.9 1688.0 1067.0 1689.0 1067.4" stroke="#0000ff"/>
<path d="M353.2 79.6C354.3 79.6 357.5 79.6 359.7 79.6C361.8 79.6 364.0 79.6 366.1 79.6C368.3 79.6 370.4 79.7 372.6 79.7C374.7 79.7 376.9 79.7 379.0 79.7C381.2 79.7 383.3 79.7 385.5 79.7C387.6 79.7 389.8 79.7 391.9 79.7C394.1 79.7 396.2 79.7 398.4 79.7C400.5 79.7 402.7 79.8 404.8 79.8C407.0 79.8 409.1 79.8 411.3 79.8C413.4 79.8 415.6 79.8 417.7 79.8C419.9 79.8 422.0 79.9 424.2 79.9C426.3 79.9 428.5 79.9 430.6 79.9C432.8 79.9 434.9 79.9 437.1 80.0C439.2 80.0 441.4 80.0 443.5 80.0C445.7 80.0 447.8 80.0 450.0 80.0C452.2 80.1 454.3 80.1 456.5 80.1C458.6 80.1 460.8 80.1 462.9 80.2C465.1 80.2 467.2 80.2 469.4 80.2C471.5 80.2 473.7 80.2 475.8 80.3C478.0 80.3 480.1 80.3 482.3 80.3C484.4 80.3 486.6 80.4 488.7 80.4C490.9 80.4 493.0 80.4 495.2 80.4C497.3 80.5 499.5 80.5 501.6 80.5C503.8 80.5 505.9 80.5 508.1 80.5C510.2 80.6 512.4 80.6 514.5 80.6C516.7 80.6 518.8 80.6 521.0 80.7C523.1 80.7 525.3 80.7 527.4 80.7C529.6 80.7 531.7 80.8 533.9 80.8C536.0 80.8 538.2 80.8 540.3 80.8C542.5 80.8 544.6 80.9 546.8 80.9C548.9 80.9 551.1 80.9 553.2 80.9C555.4 80.9 557.5 80.9 559.7 81.0C561.8 81.0 564.0 81.0 566.1 81.0C568.3 81.0 570.4 81.0 572.6 81.0C574.7 81.1 576.9 81.1 579.0 81.1C581.2 81.1 583.3 81.1 585.5 81.1C587.6 81.2 589.8 81.2 591.9 81.2C594.1 81.2 596.2 81.2 598.4 81.2C600.5 81.2 602.7 81.3 604.8 81.3C607.0 81.3 609.1 81.3 611.3 81.3C613.4 81.3 615.6 81.4 617.7 81.4C619.9 81.4 622.0 81.4 624.2 81.4C626.3 81.4 628.5 81.5 630.6 81.5C632.8 81.5 634.9 81.5 637.1 81.5C639.2 81.5 641.4 81.6 643.5 81.6C645.7 81.6 647.8 81.6 650.0 81.6C652.2 81.7 654.3 81.7 656.5 81.7C658.6 81.7 660.8 81.7 662.9 81.8C665.1 81.8 667.2 81.8 669.4 81.8C671.5 81.8 673.7 81.9 675.8 81.9C678.0 81.9 680.1 81.9 682.3 81.9C684.4 82.0 686.6 82.0 688.7 82.0C690.9 82.0 693.0 82.0 695.2 82.0C697.3 82.1 699.5 82.1 701.6 82.1C703.8 82.1 705.9 82.2 708.1 82.2C710.2 82.2 712.4 82.2 714.5 82.2C716.7 82.3 718.8 82.3 721.0 82.3C723.1 82.4 725.3 82.4 727.4 82.4C729.6 82.4 731.7 82.5 733.9 82.5C736.0 82.5 738.2 82.6 740.3 82.6C742.5 82.6 744.6 82.7 746.8 82.7C748.9 82.7 751.1 82.8 753.2 82.8C755.4 82.8 757.5 82.9 759.7 82.9C761.8 83.0 764.0 83.0 766.1 83.1C768.3 83.1 770.4 83.2 772.6 83.2C774.7 83.3 776.9 83.3 779.0 83.4C781.2 83.5 783.3 83.5 785.5 83.6C787.6 83.6 789.8 83.7 791.9 83.8C794.1 83.8 796.2 83.9 798.4 84.0C800.5 84.0 802.7 84.1 804.8 84.2C807.0 84.2 809.1 84.3 811.3 84.4C813.4 84.4 815.6 84.5 817.7 84.6C819.9 84.7 822.0 84.7 824.2 84.8C826.3 84.9 828.5 84.9 830.6 85.0C832.8 85.1 834.9 85.1 837.1 85.2C839.2 85.3 841.4 85.3 843.5 85.4C845.7 85.4 847.8 85.5 850.0 85.5C852.1 85.6 854.3 85.7 856.4 85.7C858.6 85.8 860.7 85.8 862.9 85.9C865.0 86.0 867.2 86.0 869.3 86.1C871.4 86.2 873.6 86.3 875.8 86.4C877.9 86.5 880.0 86.6 882.2 86.7C884.3 86.8 886.5 87.0 888.6 87.2C890.8 87.3 892.9 87.5 895.0 87.8C897.2 88.0 899.3 88.3 901.4 88.6C903.5 89.0 905.7 89.3 907.8 89.7C909.9 90.1 912.0 90.5 914.0 91.0C916.1 91.5 918.2 92.1 920.2 92.7C922.3 93.3 924.2 93.8 926.4 94.5C928.6 95.3 931.3 96.2 933.4 97.0C935.6 97.8 937.3 98.6 939.3 99.5C941.2 100.4 943.1 101.3 945.0 102.3C946.9 103.2 948.7 104.2 950.5 105.3C952.3 106.4 954.1 107.5 955.8 108.7C957.6 109.9 959.2 111.2 960.8 112.5C962.4 113.8 963.9 115.3 965.4 116.7C966.8 118.1 968.3 119.6 969.7 121.1C971.1 122.6 972.5 124.1 973.9 125.7C975.2 127.3 976.5 128.9 977.8 130.5C979.0 132.1 980.2 133.8 981.4 135.5C982.5 137.1 983.7 138.8 984.8 140.5C986.0 142.2 987.1 143.9 988.3 145.6C989.4 147.3 990.6 149.0 991.7 150.7C992.8 152.4 993.9 154.1 995.0 155.8C996.1 157.5 997.2 159.3 998.2 161.0C999.3 162.8 1000.3 164.5 1001.2 166.3C1002.2 168.1 1003.1 169.9 1004.0 171.8C1004.8 173.6 1005.7 175.4 1006.5 177.3C1007.3 179.1 1008.1 181.0 1008.9 182.8C1009.7 184.7 1010.4 186.6 1011.1 188.5C1011.8 190.4 1012.5 192.2 1013.2 194.2C1013.9 196.1 1014.5 198.0 1015.1 199.9C1015.7 201.8 1016.3 203.7 1016.8 205.7C1017.4 207.6 1018.0 209.5 1018.5 211.4C1019.1 213.4 1019.6 215.3 1020.1 217.3C1020.7 219.2 1021.2 221.1 1021.7 223.1C1022.3 225.0 1022.8 227.0 1023.3 228.9C1023.8 230.8 1024.3 232.8 1024.8 234.7C1025.4 236.7 1025.9 238.6 1026.4 240.6C1026.9 242.5 1027.4 244.4 1027.9 246.4C1028.3 248.3 1028.8 250.3 1029.3 252.2C1029.8 254.2 1030.2 256.1 1030.7 258.1C1031.1 260.1 1031.5 262.0 1032.0 264.0C1032.4 265.9 1032.8 267.9 1033.3 269.9C1033.7 271.8 1034.1 273.8 1034.5 275.7C1034.9 277.7 1035.3 279.7 1035.7 281.6C1036.1 283.6 1036.6 285.6 1036.9 287.5C1037.3 289.5 1037.7 291.5 1038.1 293.4C1038.5 295.4 1038.9 297.4 1039.2 299.3C1039.6 301.3 1039.9 303.3 1040.3 305.3C1040.7 307.2 1041.0 309.2 1041.3 311.2C1041.7 313.2 1042.0 315.1 1042.4 317.1C1042.7 319.1 1043.0 321.1 1043.4 323.0C1043.7 325.0 1044.1 327.0 1044.4 328.9C1044.8 330.9 1045.1 332.9 1045.5 334.9C1045.8 336.8 1046.2 338.8 1046.6 340.8C1046.9 342.8 1047.3 344.7 1047.6 346.7C1048.0 348.7 1048.4 350.6 1048.7 352.6C1049.1 354.6 1049.4 356.6 1049.8 358.5C1050.1 360.5 1050.5 362.5 1050.8 364.4C1051.2 366.4 1051.5 368.4 1051.8 370.4C1052.2 372.4 1052.5 374.3 1052.8 376.3C1053.1 378.3 1053.4 380.3 1053.7 382.2C1054.0 384.2 1054.3 386.2 1054.6 388.2C1054.9 390.2 1055.2 392.1 1055.5 394.1C1055.8 396.1 1056.1 398.1 1056.5 400.1C1056.8 402.0 1057.1 404.0 1057.4 406.0C1057.8 408.0 1058.1 410.0 1058.5 411.9C1058.8 413.9 1059.2 415.9 1059.5 417.9C1059.9 419.8 1060.2 421.8 1060.6 423.8C1060.9 425.7 1061.3 427.7 1061.6 429.7C1062.0 431.7 1062.3 433.6 1062.7 435.6C1063.0 437.6 1063.4 439.6 1063.7 441.5C1064.0 443.5 1064.4 445.5 1064.7 447.4C1065.0 449.4 1065.4 451.4 1065.7 453.4C1066.0 455.4 1066.3 457.3 1066.6 459.3C1066.9 461.3 1067.2 463.3 1067.5 465.3C1067.8 467.3 1068.1 469.2 1068.3 471.2C1068.6 473.2 1068.9 475.2 1069.1 477.2C1069.4 479.2 1069.7 481.1 1069.9 483.1C1070.2 485.1 1070.4 487.1 1070.7 489.1C1070.9 491.1 1071.2 493.1 1071.5 495.0C1071.7 497.0 1072.0 499.0 1072.2 501.0C1072.5 503.0 1072.7 505.0 1073.0 507.0C1073.3 508.9 1073.5 510.9 1073.8 512.9C1074.1 514.9 1074.3 516.9 1074.6 518.9C1074.9 520.9 1075.1 522.8 1075.4 524.8C1075.7 526.8 1075.9 528.8 1076.2 530.8C1076.5 532.8 1076.7 534.7 1077.0 536.7C1077.3 538.7 1077.5 540.7 1077.8 542.7C1078.1 544.7 1078.3 546.6 1078.6 548.6C1078.9 550.6 1079.1 552.6 1079.4 554.6C1079.7 556.6 1080.0 558.6 1080.2 560.5C1080.5 562.5 1080.8 564.5 1081.0 566.5C1081.3 568.5 1081.6 570.5 1081.9 572.4C1082.1 574.4 1082.4 576.4 1082.7 578.4C1083.0 580.4 1083.2 582.4 1083.5 584.3C1083.8 586.3 1084.1 588.3 1084.3 590.3C1084.6 592.3 1084.9 594.3 1085.2 596.2C1085.4 598.2 1085.7 600.2 1086.0 602.2C1086.3 604.2 1086.5 606.2 1086.8 608.1C1087.1 610.1 1087.3 612.1 1087.6 614.1C1087.9 616.1 1088.1 618.1 1088.4 620.1C1088.6 622.0 1088.9 624.0 1089.2 626.0C1089.4 628.0 1089.7 630.0 1090.0 632.0C1090.2 634.0 1090.5 635.9 1090.7 637.9C1091.0 639.9 1091.3 641.9 1091.5 643.9C1091.8 645.9 1092.1 647.9 1092.3 649.8C1092.6 651.8 1092.9 653.8 1093.1 655.8C1093.4 657.8 1093.7 659.8 1093.9 661.7C1094.2 663.7 1094.5 665.7 1094.8 667.7C1095.1 669.7 1095.3 671.7 1095.6 673.6C1095.9 675.6 1096.2 677.6 1096.4 679.6C1096.7 681.6 1097.0 683.6 1097.3 685.5C1097.6 687.5 1097.9 689.5 1098.2 691.5C1098.4 693.5 1098.7 695.4 1099.0 697.4C1099.3 699.4 1099.6 701.4 1099.9 703.4C1100.2 705.4 1100.5 707.3 1100.8 709.3C1101.1 711.3 1101.4 713.3 1101.7 715.3C1102.0 717.2 1102.3 719.2 1102.6 721.2C1102.9 723.2 1103.2 725.2 1103.5 727.1C1103.9 729.1 1104.2 731.1 1104.5 733.1C1104.8 735.1 1105.1 737.0 1105.4 739.0C1105.7 741.0 1105.9 743.0 1106.2 745.0C1106.5 746.9 1106.8 748.9 1107.1 750.9C1107.4 752.9 1107.7 754.9 1107.9 756.9C1108.2 758.8 1108.5 760.8 1108.7 762.8C1109.0 764.8 1109.3 766.8 1109.5 768.8C1109.8 770.8 1110.1 772.7 1110.3 774.7C1110.6 776.7 1110.8 778.7 1111.1 780.7C1111.3 782.7 1111.6 784.7 1111.9 786.6C1112.1 788.6 1112.4 790.6 1112.6 792.6C1112.9 794.6 1113.2 796.6 1113.4 798.5C1113.7 800.5 1114.0 802.5 1114.2 804.5C1114.5 806.5 1114.8 808.5 1115.0 810.5C1115.3 812.4 1115.6 814.4 1115.9 816.4C1116.1 818.4 1116.4 820.4 1116.7 822.4C1117.0 824.3 1117.3 826.3 1117.5 828.3C1117.8 830.3 1118.1 832.3 1118.3 834.3C1118.6 836.2 1118.9 838.2 1119.1 840.2C1119.4 842.2 1119.6 844.2 1119.9 846.2C1120.1 848.2 1120.4 850.1 1120.6 852.1C1120.9 854.1 1121.1 856.1 1121.3 858.1C1121.5 860.1 1121.7 862.1 1121.9 864.1C1122.2 866.1 1122.4 868.0 1122.6 870.0C1122.8 872.0 1123.0 874.0 1123.2 876.0C1123.4 878.0 1123.6 880.0 1123.8 882.0C1124.0 884.0 1124.2 886.0 1124.4 888.0C1124.6 890.0 1124.8 891.9 1125.1 893.9C1125.3 895.9 1125.5 897.9 1125.8 899.9C1126.0 901.9 1126.2 903.9 1126.5 905.9C1126.7 907.8 1127.0 909.8 1127.3 911.8C1127.5 913.8 1127.8 915.8 1128.1 917.8C1128.4 919.7 1128.7 921.7 1128.9 923.7C1129.2 925.7 1129.5 927.7 1129.8 929.7C1130.1 931.6 1130.3 933.6 1130.6 935.6C1130.9 937.6 1131.1 939.6 1131.4 941.6C1131.7 943.6 1131.9 945.5 1132.2 947.5C1132.4 949.5 1132.7 951.5 1132.9 953.5C1133.1 955.5 1133.4 957.5 1133.6 959.5C1133.8 961.4 1134.0 963.4 1134.2 965.4C1134.4 967.4 1134.7 969.4 1134.9 971.4C1135.1 973.4 1135.3 975.4 1135.5 977.4C1135.7 979.4 1135.9 981.4 1136.1 983.3C1136.3 985.3 1136.5 987.3 1136.7 989.3C1136.9 991.3 1137.1 993.3 1137.4 995.3C1137.6 997.3 1137.8 999.3 1138.1 1001.2C1138.3 1003.2 1138.6 1005.2 1138.9 1007.2C1139.2 1009.2 1139.5 1011.2 1139.8 1013.1C1140.2 1015.1 1140.5 1017.1 1140.8 1019.0C1141.2 1021.0 1141.5 1023.0 1141.8 1025.0C1142.1 1027.0 1142.4 1028.9 1142.8 1030.9C1143.1 1032.9 1143.4 1034.9 1143.7 1036.9C1144.0 1038.8 1144.4 1040.8 1144.7 1042.8C1145.1 1044.8 1145.4 1046.7 1145.8 1048.7C1146.1 1050.7 1146.5 1052.6 1146.9 1054.6C1147.3 1056.6 1147.7 1058.5 1148.2 1060.5C1148.6 1062.5 1149.0 1064.4 1149.5 1066.4C1149.9 1068.3 1150.4 1070.3 1150.9 1072.2C1151.4 1074.2 1151.9 1076.1 1152.4 1078.0C1152.9 1080.0 1153.5 1081.9 1154.1 1083.8C1154.7 1085.8 1155.3 1087.7 1155.9 1089.6C1156.5 1091.5 1157.1 1093.4 1157.8 1095.3C1158.5 1097.2 1159.1 1099.1 1159.9 1101.0C1160.6 1102.9 1161.4 1104.7 1162.3 1106.6C1163.1 1108.4 1164.0 1110.2 1165.1 1112.0C1166.1 1113.7 1167.2 1115.5 1168.4 1117.1C1169.6 1118.7 1170.8 1120.2 1172.4 1121.7C1174.1 1123.1 1176.3 1124.8 1178.2 1125.8C1180.2 1126.8 1182.1 1127.4 1184.1 1128.0C1186.1 1128.5 1188.3 1128.8 1190.4 1129.0C1192.5 1129.3 1194.7 1129.4 1196.8 1129.5C1198.9 1129.6 1201.1 1129.6 1203.2 1129.7C1205.4 1129.8 1207.5 1129.8 1209.7 1129.8C1211.8 1129.9 1214.0 1129.9 1216.2 1129.9C1218.3 1129.9 1220.5 1130.0 1222.6 1130.0C1224.8 1130.0 1226.9 1130.0 1229.1 1130.0C1231.2 1130.0 1233.4 1130.0 1235.5 1130.0C1237.7 1130.1 1239.8 1130.1 1242.0 1130.1C1244.1 1130.1 1246.3 1130.1 1248.4 1130.2C1250.6 1130.2 1252.7 1130.2 1254.9 1130.2C1257.0 1130.3 1259.2 1130.3 1261.3 1130.3C1263.5 1130.3 1265.6 1130.4 1267.8 1130.4C1269.9 1130.4 1272.1 1130.5 1274.2 1130.5C1276.4 1130.5 1278.5 1130.5 1280.7 1130.6C1282.8 1130.6 1285.0 1130.6 1287.1 1130.7C1289.3 1130.7 1291.4 1130.7 1293.6 1130.8C1295.7 1130.8 1297.9 1130.8 1300.0 1130.9C1302.2 1130.9 1304.3 1130.9 1306.5 1131.0C1308.6 1131.0 1310.8 1131.0 1312.9 1131.1C1315.1 1131.1 1317.2 1131.1 1319.4 1131.2C1321.5 1131.2 1323.7 1131.2 1325.8 1131.3C1328.0 1131.3 1330.1 1131.4 1332.3 1131.4C1334.4 1131.4 1336.6 1131.5 1338.7 1131.5C1340.9 1131.5 1343.0 1131.6 1345.2 1131.6C1347.3 1131.6 1349.5 1131.7 1351.6 1131.7C1353.8 1131.7 1355.9 1131.8 1358.1 1131.8C1360.2 1131.8 1362.4 1131.9 1364.5 1131.9C1366.7 1131.9 1368.8 1132.0 1371.0 1132.0C1373.1 1132.0 1375.3 1132.1 1377.4 1132.1C1379.6 1132.1 1381.7 1132.2 1383.9 1132.2C1386.0 1132.2 1388.2 1132.2 1390.3 1132.3C1392.5 1132.3 1394.6 1132.3 1396.8 1132.4C1398.9 1132.4 1401.1 1132.4 1403.2 1132.5C1405.4 1132.5 1407.5 1132.5 1409.7 1132.5C1411.8 1132.6 1414.0 1132.6 1416.1 1132.6C1418.3 1132.7 1420.4 1132.7 1422.6 1132.7C1424.7 1132.7 1426.9 1132.8 1429.0 1132.8C1431.2 1132.8 1433.3 1132.9 1435.5 1132.9C1437.6 1132.9 1439.8 1132.9 1441.9 1133.0C1444.1 1133.0 1446.2 1133.0 1448.4 1133.0C1450.5 1133.0 1452.7 1133.1 1454.8 1133.1C1457.0 1133.1 1459.1 1133.1 1461.3 1133.2C1463.4 1133.2 1465.6 1133.2 1467.7 1133.2C1469.9 1133.2 1472.0 1133.2 1474.2 1133.3C1476.3 1133.3 1478.5 1133.3 1480.6 1133.3C1482.8 1133.3 1484.9 1133.4 1487.1 1133.4C1489.2 1133.4 1491.4 1133.4 1493.5 1133.4C1495.7 1133.5 1497.8 1133.5 1500.0 1133.5C1502.2 1133.5 1504.3 1133.5 1506.5 1133.5C1508.6 1133.6 1510.8 1133.6 1512.9 1133.6C1515.1 1133.6 1517.2 1133.6 1519.4 1133.6C1521.5 1133.7 1523.7 1133.7 1525.8 1133.7C1528.0 1133.7 1530.1 1133.7 1532.3 1133.7C1534.4 1133.8 1536.6 1133.8 1538.7 1133.8C1540.9 1133.8 1543.0 1133.8 1545.2 1133.8C1547.3 1133.8 1549.5 1133.9 1551.6 1133.9C1553.8 1133.9 1555.9 1133.9 1558.1 1133.9C1560.2 1133.9 1562.4 1134.0 1564.5 1134.0C1566.7 1134.0 1568.8 1134.0 1571.0 1134.0C1573.1 1134.0 1575.3 1134.0 1577.4 1134.0C1579.6 1134.1 1581.7 1134.1 1583.9 1134.1C1586.0 1134.1 1588.2 1134.1 1590.3 1134.1C1592.5 1134.2 1594.6 1134.2 1596.8 1134.2C1598.9 1134.2 1601.1 1134.2 1603.2 1134.2C1605.4 1134.2 1607.5 1134.3 1609.7 1134.3C1611.8 1134.3 1614.0 1134.3 1616.1 1134.3C1618.3 1134.3 1620.4 1134.3 1622.6 1134.4C1624.7 1134.4 1626.9 1134.4 1629.0 1134.4C1631.2 1134.4 1633.3 1134.4 1635.5 1134.5C1637.6 1134.5 1639.8 1134.5 1641.9 1134.5C1644.1 1134.5 1646.2 1134.5 1648.4 1134.5C1650.5 1134.6 1652.7 1134.6 1654.8 1134.6C1657.0 1134.6 1659.1 1134.6 1661.3 1134.7C1663.4 1134.7 1665.6 1134.7 1667.7 1134.7C1669.9 1134.7 1672.0 1134.8 1674.2 1134.8C1676.3 1134.8 1678.5 1134.8 1680.6 1134.8C1682.8 1134.8 1684.9 1134.9 1687.1 1134.9C1689.2 1134.9 1691.4 1134.9 1693.5 1135.0C1695.7 1135.0 1697.8 1135.0 1700.0 1135.0C1702.2 1135.1 1704.3 1135.1 1706.5 1135.1C1708.6 1135.1 1710.8 1135.2 1712.9 1135.2C1715.1 1135.2 1717.2 1135.2 1719.4 1135.3C1721.5 1135.3 1723.7 1135.3 1725.8 1135.3C1728.0 1135.4 1730.1 1135.4 1732.3 1135.4C1734.4 1135.5 1736.6 1135.5 1738.7 1135.5C1740.9 1135.5 1743.0 1135.6 1745.2 1135.6C1747.3 1135.6 1750.5 1135.7 1751.6 1135.7" stroke="#ff00ff"/>
</g>
<line x1="1111.5" y1="97.0" x2="1233" y2="97.0" stroke="#000000" stroke-width="9.3" stroke-linecap="round"/>
<text transform="translate(1249.5 115.2) scale(1 1.03)">MC(A&amp;T)</text>
<line x1="1111.5" y1="177.4" x2="1233" y2="177.4" stroke="#ff0000" stroke-width="9.3" stroke-linecap="round"/>
<text transform="translate(1249.5 195.3) scale(1 1.03)">PA</text>
<line x1="1111.5" y1="257.3" x2="1233" y2="257.3" stroke="#0000ff" stroke-width="9.3" stroke-linecap="round"/>
<text transform="translate(1249.5 275.0) scale(1 1.03)">UF</text>
<line x1="1111.5" y1="337.0" x2="1233" y2="337.0" stroke="#ff00ff" stroke-width="9.3" stroke-linecap="round"/>
<text transform="translate(1249.5 354.8) scale(1 1.03)">Tung oil</text>
<text transform="translate(250.5 1152.0) scale(1 1.03)" text-anchor="end">0</text>
<text transform="translate(250.5 941.3) scale(1 1.03)" text-anchor="end">20</text>
<text transform="translate(250.5 730.5) scale(1 1.03)" text-anchor="end">40</text>
<text transform="translate(250.5 519.8) scale(1 1.03)" text-anchor="end">60</text>
<text transform="translate(250.5 309.0) scale(1 1.03)" text-anchor="end">80</text>
<text transform="translate(250.5 98.3) scale(1 1.03)" text-anchor="end">100</text>
<text transform="translate(298.0 1233) scale(1 1.03)" text-anchor="middle">0</text>
<text transform="translate(618.0 1233) scale(1 1.03)" text-anchor="middle">200</text>
<text transform="translate(938.0 1233) scale(1 1.03)" text-anchor="middle">400</text>
<text transform="translate(1258.0 1233) scale(1 1.03)" text-anchor="middle">600</text>
<text transform="translate(1578.0 1233) scale(1 1.03)" text-anchor="middle">800</text>
<text transform="translate(1014 1340.8) scale(1 1.02)" text-anchor="middle">Temperature (°C)</text>
<text transform="translate(68.9 604.8) rotate(-90)" text-anchor="middle" style="font-size:66px">Mass (%)</text>
</svg>
</body>
</html>
